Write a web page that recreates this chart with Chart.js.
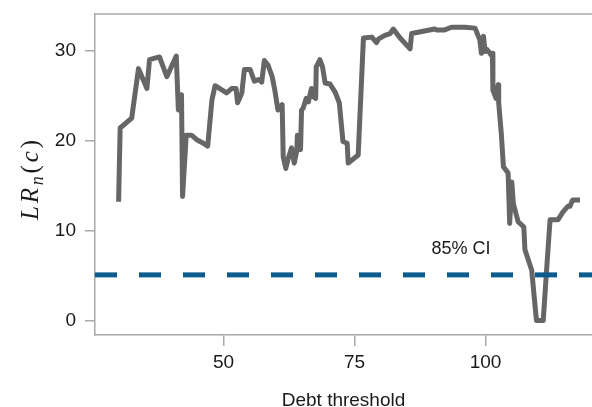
<!DOCTYPE html>
<html>
<head>
<meta charset="utf-8">
<script src="https://cdn.jsdelivr.net/npm/chart.js@4.4.1/dist/chart.umd.min.js"></script>
<style>
  html, body { margin: 0; padding: 0; background: #ffffff; }
  #wrap { width: 592px; height: 407px; position: relative; }
</style>
</head>
<body>
<div id="wrap"><canvas id="c" width="592" height="407"></canvas></div>
<script>
// ---- Data ----
const thresholds = [30.0, 30.3, 32.5, 33.8, 35.4, 35.9, 37.8, 39.2, 41.0, 41.4, 42.0, 42.2, 42.9, 43.9,
  44.9, 45.9, 47.0, 47.8, 48.4, 50.6, 51.6, 52.4, 52.7, 53.5, 54.0, 55.1, 55.9, 56.7, 57.3, 57.8,
  58.5, 59.3, 59.8, 60.4, 61.2, 61.4, 61.9, 62.4, 63.0, 63.5, 64.0, 64.1, 64.7, 64.9, 65.2, 65.8,
  66.2, 66.8, 67.1, 67.6, 67.7, 68.4, 68.9, 69.4, 70.3, 71.3, 72.1, 72.8, 73.6, 73.8, 75.7, 76.7,
  78.3, 79.2, 79.6, 80.8, 81.8, 82.4, 83.7, 85.6, 85.9, 90.3, 90.6, 92.2, 93.5, 96.1, 98.0, 98.9,
  99.2, 99.6, 99.9, 100.3, 101.1, 101.3, 101.4, 102.0, 102.4, 102.5, 103.0, 103.4, 104.3, 104.6,
  105.0, 105.3, 106.2, 107.3, 107.5, 108.8, 109.7, 111.0, 111.6, 112.3, 113.8, 114.8, 115.7, 116.1,
  116.6, 118.0];
const lrValues = [13.2, 21.4, 22.5, 28.0, 25.8, 29.0, 29.3, 27.1, 29.4, 23.4, 25.1, 13.8, 20.6, 20.6,
  20.1, 19.8, 19.4, 24.5, 26.1, 25.3, 25.8, 25.8, 24.2, 25.3, 27.9, 27.9, 26.6, 26.8, 26.5, 28.9,
  28.4, 27.1, 25.6, 23.4, 24.0, 18.2, 16.9, 18.1, 19.2, 17.5, 18.9, 20.6, 19.0, 23.4, 23.6, 24.7,
  24.3, 25.8, 24.9, 24.7, 28.2, 29.0, 28.2, 26.4, 26.3, 25.4, 24.2, 19.9, 19.7, 17.5, 18.4, 31.4,
  31.5, 30.9, 31.3, 31.7, 31.9, 32.4, 31.4, 30.2, 31.9, 32.4, 32.3, 32.3, 32.6, 32.6, 32.5, 31.2,
  29.7, 31.6, 29.9, 30.1, 29.5, 29.7, 25.6, 24.7, 26.2, 24.2, 20.8, 17.1, 16.4, 10.8,
  15.4, 13.0, 11.0, 10.4, 7.9, 5.6, 0.0, 0.0, 5.3, 11.2, 11.2, 12.1, 12.7, 12.7,
  13.4, 13.4];
const ciLevel = 5.08;
const ciLabel = "85% CI";
const ciLabelPos = [95.3, 8.0];
const xTicks = [50, 75, 100];
const yTicks = [0, 10, 20, 30];
const xRange = [25.5, 120.3];
const yRange = [-1.6, 34.07];
const xTitle = "Debt threshold";

const axisColor = '#a8a8a8';
const textColor = '#1a1a1a';

const lineData = thresholds.map((x, i) => ({ x: x, y: lrValues[i] }));
const ciData = [{ x: xRange[0], y: ciLevel }, { x: xRange[1], y: ciLevel }];

const decorPlugin = {
  id: 'decor',
  afterDraw(chart) {
    const ctx = chart.ctx;
    const ca = chart.chartArea;
    const xs = chart.scales.x, ys = chart.scales.y;
    ctx.save();
    // top frame line
    ctx.strokeStyle = axisColor;
    ctx.lineWidth = 1.5;
    ctx.beginPath();
    ctx.moveTo(ca.left, ca.top);
    ctx.lineTo(ca.right, ca.top);
    ctx.stroke();

    // CI label
    ctx.fillStyle = textColor;
    ctx.font = '18px "Liberation Sans", Arial, sans-serif';
    ctx.textAlign = 'center';
    ctx.textBaseline = 'middle';
    ctx.fillText(ciLabel, xs.getPixelForValue(ciLabelPos[0]), ys.getPixelForValue(ciLabelPos[1]));

    // x title
    ctx.font = '19px "Liberation Sans", Arial, sans-serif';
    ctx.textBaseline = 'alphabetic';
    ctx.fillText(xTitle, (ca.left + ca.right) / 2, 406);

    // y title: LR_n(c)
    const parts = [
      { t: 'L', f: 'italic 25px "Liberation Serif", serif', dy: 0 },
      { t: 'R', f: 'italic 25px "Liberation Serif", serif', dy: 0 },
      { t: 'n', f: 'italic 18px "Liberation Serif", serif', dy: 5 },
      { t: '(', f: '25px "Liberation Serif", serif', dy: 0 },
      { t: 'c', f: 'italic 25px "Liberation Serif", serif', dy: 0 },
      { t: ')', f: '25px "Liberation Serif", serif', dy: 0 }
    ];
    let sum = 0;
    parts.forEach(p => { ctx.font = p.f; p.w = ctx.measureText(p.t).width; sum += p.w; });
    const target = 80;
    const gap = Math.max(0, (target - sum) / (parts.length - 1));
    const total = sum + gap * (parts.length - 1);
    ctx.translate(38, 180);
    ctx.rotate(-Math.PI / 2);
    ctx.textAlign = 'left';
    ctx.textBaseline = 'alphabetic';
    let px = -total / 2;
    parts.forEach(p => {
      ctx.font = p.f;
      ctx.fillText(p.t, px, p.dy);
      px += p.w + gap;
    });
    ctx.restore();
  }
};

new Chart(document.getElementById('c'), {
  type: 'scatter',
  data: {
    datasets: [
      {
        label: 'CI',
        data: ciData,
        showLine: true,
        borderColor: '#0d5a8e',
        borderWidth: 5,
        borderDash: [22, 22],
        borderCapStyle: 'butt',
        pointRadius: 0,
        order: 0
      },
      {
        label: 'LR',
        data: lineData,
        showLine: true,
        borderColor: '#666666',
        borderWidth: 5,
        borderJoinStyle: 'round',
        borderCapStyle: 'butt',
        tension: 0,
        pointRadius: 0,
        order: 1
      }
    ]
  },
  options: {
    responsive: false,
    animation: false,
    devicePixelRatio: 1,
    layout: { padding: { left: 0, top: 14, right: 0, bottom: 0 } },
    plugins: { legend: { display: false }, tooltip: { enabled: false } },
    scales: {
      x: {
        type: 'linear',
        min: xRange[0],
        max: xRange[1],
        afterBuildTicks: s => { s.ticks = xTicks.map(v => ({ value: v })); },
        afterFit: s => { s.height = 72; s.paddingLeft = 0; s.paddingRight = 0; },
        grid: { drawOnChartArea: false, drawTicks: true, tickLength: 11, color: axisColor, lineWidth: 1.5 },
        border: { display: true, color: axisColor, width: 1.5 },
        ticks: { color: textColor, font: { family: '"Liberation Sans", Arial, sans-serif', size: 19 }, padding: 5, maxRotation: 0, autoSkip: false }
      },
      y: {
        type: 'linear',
        min: yRange[0],
        max: yRange[1],
        afterBuildTicks: s => { s.ticks = yTicks.map(v => ({ value: v })); },
        afterFit: s => { s.width = 95; s.paddingTop = 0; s.paddingBottom = 0; },
        grid: { drawOnChartArea: false, drawTicks: true, tickLength: 10, color: axisColor, lineWidth: 1.5 },
        border: { display: true, color: axisColor, width: 1.5 },
        ticks: { color: textColor, font: { family: '"Liberation Sans", Arial, sans-serif', size: 19 }, padding: 9, autoSkip: false }
      }
    }
  },
  plugins: [decorPlugin]
});
</script>
</body>
</html>
